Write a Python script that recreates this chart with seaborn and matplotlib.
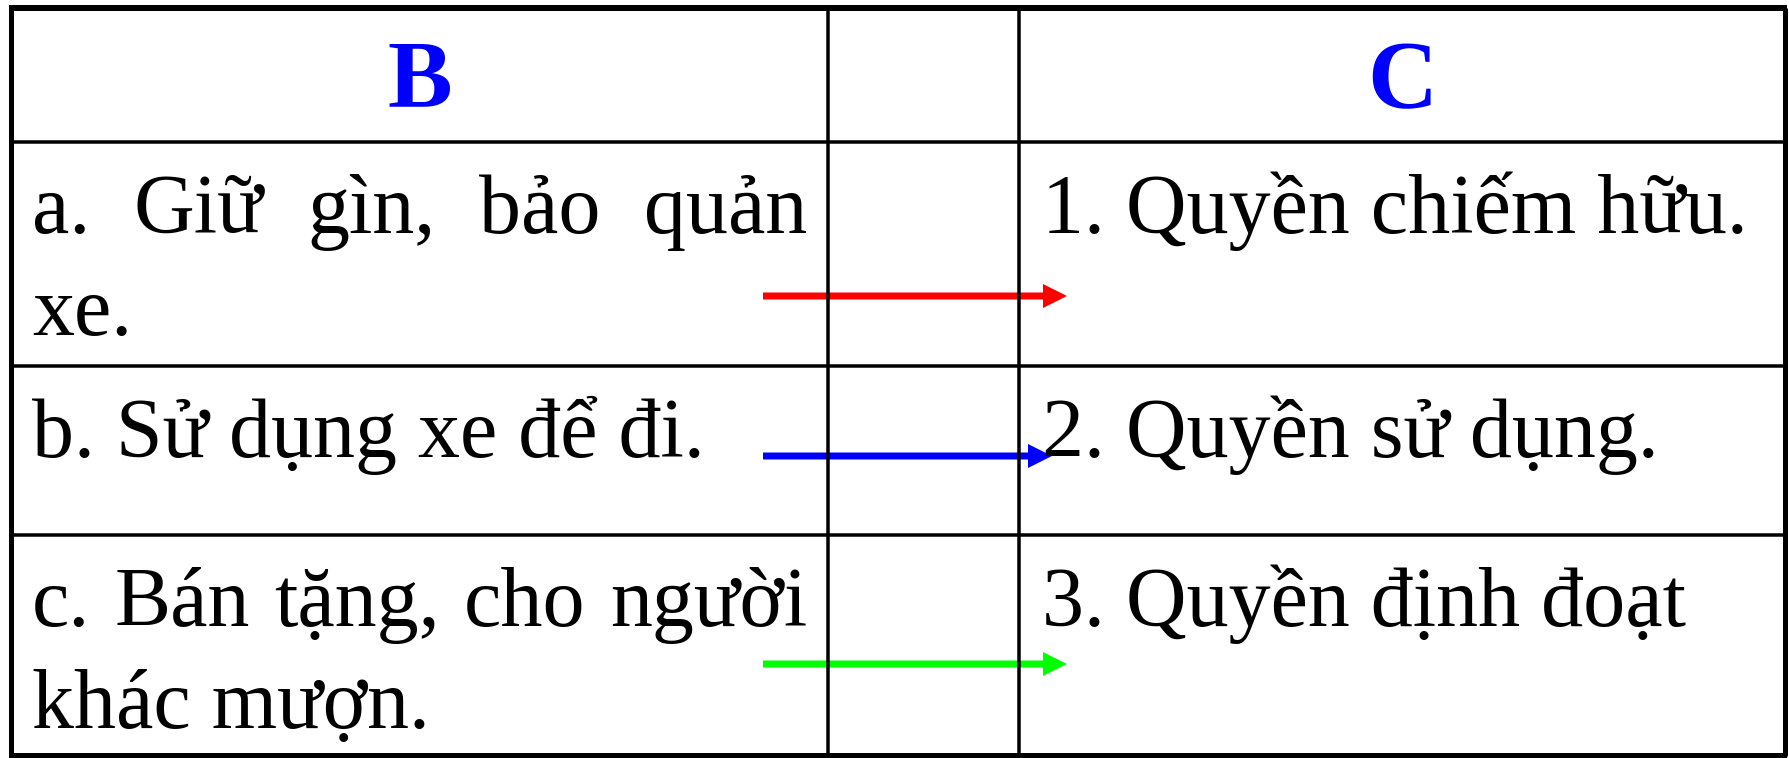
import matplotlib
matplotlib.use("Agg")
import matplotlib.pyplot as plt
import seaborn as sns

# contenuto della tabella
header_b = "B"
header_c = "C"
col_b = [["a. Giữ gìn, bảo quản", "xe."],
         ["b. Sử dụng xe để đi."],
         ["c. Bán tặng, cho người", "khác mượn."]]
col_c = ["1. Quyền chiếm hữu.", "2. Quyền sử dụng.", "3. Quyền định đoạt"]
arrow_colors = ["#ff0000", "#0000ff", "#00ff00"]

sns.set_theme(style="white")
plt.rcParams["font.family"] = ["Liberation Serif", "DejaVu Serif"]
plt.rcParams["text.color"] = "black"

W, H = 1790, 758
fig = plt.figure(figsize=(W / 100, H / 100), dpi=100)
ax = fig.add_axes([0, 0, 1, 1])
ax.set_xlim(0, W)
ax.set_ylim(H, 0)
ax.axis("off")

# griglia (pixel)
xs = [11, 828, 1019, 1785]
ys = [8, 142, 366, 535, 756]
px = 0.72  # pixel -> punti

for i, y in enumerate(ys):
    lw = 6 if i in (0, len(ys) - 1) else 3.5
    ax.plot([xs[0] - 2, xs[-1] + 2], [y, y], color="black", lw=lw * px, solid_capstyle="butt")
for i, x in enumerate(xs):
    lw = 5 if i in (0, len(xs) - 1) else 3.5
    ax.plot([x, x], [ys[0], ys[-1]], color="black", lw=lw * px, solid_capstyle="butt")

# intestazioni
ax.text((xs[0] + xs[1]) / 2, 107, header_b, color="#0000ff", fontsize=97 * px,
        fontweight="bold", ha="center", va="baseline")
ax.text((xs[2] + xs[3]) / 2, 108, header_c, color="#0000ff", fontsize=97 * px,
        fontweight="bold", ha="center", va="baseline")

body_fs = 84 * px
line_gap = 102
renderer = fig.canvas.get_renderer()


def riga_giustificata(x0, x1, y, riga):
    # distribuisce le parole tra x0 e x1 (testo giustificato)
    parole = riga.split(" ")
    pezzi = [ax.text(0, y, p, fontsize=body_fs, ha="left", va="baseline") for p in parole]
    larghezze = [t.get_window_extent(renderer).width for t in pezzi]
    spazio = (x1 - x0 - sum(larghezze)) / (len(parole) - 1)
    x = x0
    for t, w in zip(pezzi, larghezze):
        t.set_x(x)
        x += w + spazio


for r, righe in enumerate(col_b):
    base = ys[r + 1] + 91
    for k, riga in enumerate(righe):
        if k == 0 and len(righe) > 1:
            riga_giustificata(32, 807, base, riga)
        else:
            ax.text(32, base + k * line_gap, riga, fontsize=body_fs, ha="left", va="baseline")
    ax.text(1042, base, col_c[r], fontsize=body_fs, ha="left", va="baseline")

# frecce di collegamento B -> C
arrow_y = [296, 456, 664]
arrow_end = [1067, 1052, 1067]
for y, x_end, colore in zip(arrow_y, arrow_end, arrow_colors):
    ax.arrow(763, y, x_end - 763, 0, width=7, head_width=24, head_length=24,
             length_includes_head=True, color=colore, lw=0)

fig.savefig("out.png", dpi=100)
